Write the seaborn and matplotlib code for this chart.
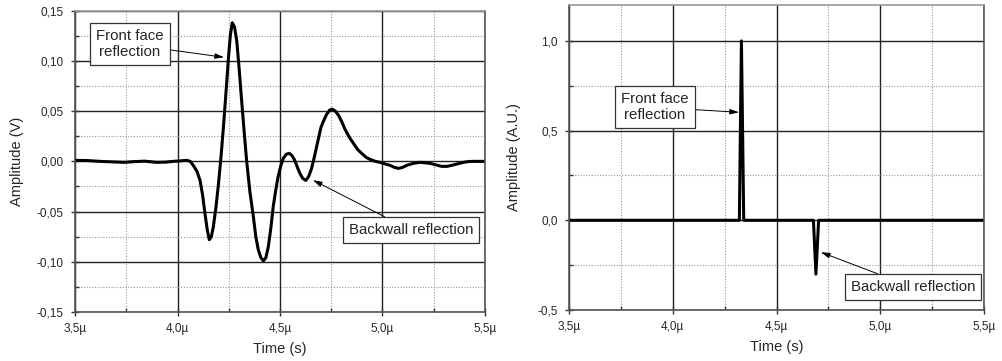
import numpy as np
import pandas as pd
import seaborn as sns
import matplotlib
matplotlib.use("Agg")
import matplotlib.pyplot as plt
from matplotlib.ticker import MultipleLocator, FuncFormatter

sns.set_theme(style="white")
plt.rcParams["font.family"] = ["Liberation Sans", "DejaVu Sans"]

# Measured echo signal (time in microseconds, amplitude in volts)
meas_t = [3.50, 3.56, 3.62, 3.68, 3.74, 3.785, 3.84, 3.898, 3.94, 3.98, 4.02, 4.045,
          4.062, 4.077, 4.095, 4.11, 4.122, 4.134, 4.145, 4.155, 4.165, 4.175, 4.188,
          4.20, 4.212, 4.224, 4.237, 4.249, 4.258, 4.267, 4.278, 4.289, 4.30, 4.313,
          4.325, 4.337, 4.353, 4.37, 4.382, 4.394, 4.407, 4.419, 4.431, 4.443, 4.455,
          4.467, 4.479, 4.49, 4.503, 4.516, 4.53, 4.545, 4.558, 4.572, 4.585, 4.597,
          4.611, 4.626, 4.64, 4.654, 4.666, 4.678, 4.69, 4.70, 4.714, 4.728, 4.742,
          4.755, 4.77, 4.785, 4.80, 4.817, 4.838, 4.858, 4.878, 4.898, 4.92, 4.939,
          4.965, 4.988, 5.012, 5.037, 5.058, 5.078, 5.098, 5.118, 5.15, 5.183, 5.21,
          5.232, 5.26, 5.289, 5.315, 5.337, 5.365, 5.394, 5.42, 5.443, 5.47, 5.50]
meas_v = [0.001, 0.0008, 0.0, -0.0005, -0.001, -0.0003, 0.0002, -0.001, -0.0008, 0.0,
          0.0006, 0.001, 0.0, -0.004, -0.010, -0.019, -0.033, -0.052, -0.068, -0.078,
          -0.075, -0.065, -0.045, -0.022, 0.004, 0.034, 0.070, 0.104, 0.126, 0.138,
          0.134, 0.120, 0.094, 0.060, 0.030, 0.001, -0.030, -0.055, -0.075, -0.088,
          -0.096, -0.099, -0.096, -0.085, -0.067, -0.045, -0.029, -0.016, -0.005, 0.003,
          0.007, 0.008, 0.006, 0.001, -0.006, -0.012, -0.017, -0.019, -0.015, -0.007,
          0.003, 0.014, 0.025, 0.034, 0.041, 0.047, 0.051, 0.052, 0.050, 0.046, 0.040,
          0.032, 0.024, 0.018, 0.012, 0.008, 0.004, 0.002, 0.0, -0.001, -0.0025, -0.004,
          -0.006, -0.007, -0.006, -0.004, -0.002, -0.001, -0.0015, -0.002, -0.0035,
          -0.005, -0.005, -0.004, -0.0025, -0.001, -0.0002, 0.0, 0.0, 0.0]

# Idealised reflection impulses (time in microseconds, arbitrary units)
model_t = [3.50, 4.321, 4.331, 4.342, 4.678, 4.690, 4.703, 5.50]
model_v = [0.0, 0.0, 1.0, 0.0, 0.0, -0.30, 0.0, 0.0]

meas = pd.DataFrame({"t": meas_t, "v": meas_v})
model = pd.DataFrame({"t": model_t, "v": model_v})

fig = plt.figure(figsize=(10.02, 3.61), dpi=100)
ax1 = fig.add_axes([75 / 1002, 49 / 361, 410 / 1002, 301.3 / 361])
ax2 = fig.add_axes([569 / 1002, 51 / 361, 415 / 1002, 305 / 361])


def comma(fmt):
    return FuncFormatter(lambda v, p: fmt.format(v).replace(".", ","))


def style_axes(ax, ymin, ymax, ymajor, yminor, yfmt):
    ax.set_xlim(3.5, 5.5)
    ax.set_ylim(ymin, ymax)
    ax.xaxis.set_major_locator(MultipleLocator(0.5))
    ax.xaxis.set_minor_locator(MultipleLocator(0.25))
    ax.yaxis.set_major_locator(MultipleLocator(ymajor))
    ax.yaxis.set_minor_locator(MultipleLocator(yminor))
    ax.xaxis.set_major_formatter(FuncFormatter(lambda v, p: f"{v:.1f}µ".replace(".", ",")))
    ax.yaxis.set_major_formatter(comma(yfmt))
    ax.grid(True, which="major", color="#222222", linewidth=1.0, linestyle="-")
    ax.grid(True, which="minor", color="#999999", linewidth=0.8, linestyle=(0, (1, 1.5)))
    ax.set_axisbelow(True)
    ax.tick_params(which="major", direction="inout", length=6, width=1.0,
                   color="#333333", labelsize=8.5, bottom=True, left=True)
    ax.tick_params(axis="x", which="major", pad=5)
    ax.tick_params(axis="y", which="major", pad=5)
    ax.tick_params(which="minor", direction="in", length=3, width=1.0,
                   color="#333333", bottom=True, left=True)
    for side, sp in ax.spines.items():
        sp.set_visible(True)
        sp.set_linewidth(1.2)
        sp.set_color("#555555" if side != "top" else "#999999")
    ax.set_xlabel("Time (s)", fontsize=10.5, labelpad=5)


sns.lineplot(data=meas, x="t", y="v", ax=ax1, color="black", linewidth=2.2,
             sort=False, estimator=None)
style_axes(ax1, -0.15, 0.15, 0.05, 0.025, "{:.2f}")
ax1.set_ylabel("Amplitude (V)", fontsize=10.5, labelpad=9)

sns.lineplot(data=model, x="t", y="v", ax=ax2, color="black", linewidth=2.2,
             sort=False, estimator=None)
style_axes(ax2, -0.5, 1.2, 0.5, 0.25, "{:.1f}")
ax2.set_ylabel("Amplitude (A.U.)", fontsize=10.5, labelpad=12)

box = dict(boxstyle="square,pad=0.4", fc="white", ec="#333333", lw=0.9)
arrow = dict(arrowstyle="-|>,head_length=0.5,head_width=0.15", color="black", lw=0.7,
             shrinkA=0, shrinkB=0)

ax1.annotate("Front face\nreflection", xy=(4.227, 0.1036), xytext=(3.768, 0.1165),
             ha="center", va="center", fontsize=10.8, bbox=box, arrowprops=arrow,
             linespacing=1.2)
ax1.annotate("Backwall reflection", xy=(4.661, -0.0187), xytext=(5.139, -0.0686),
             ha="center", va="center", fontsize=10.8, bbox=box, arrowprops=arrow)
ax2.annotate("Front face\nreflection", xy=(4.319, 0.602), xytext=(3.914, 0.63),
             ha="center", va="center", fontsize=10.8, bbox=box, arrowprops=arrow,
             linespacing=1.2)
ax2.annotate("Backwall reflection", xy=(4.714, -0.178), xytext=(5.158, -0.373),
             ha="center", va="center", fontsize=10.8, bbox=box, arrowprops=arrow)

fig.savefig("out.png", dpi=100)
